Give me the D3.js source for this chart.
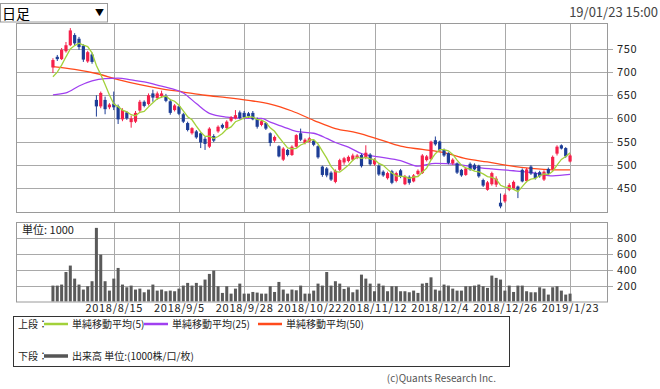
<!DOCTYPE html>
<html><head><meta charset="utf-8">
<script src="https://cdn.jsdelivr.net/npm/d3@7"></script>
<style>
body{margin:0;background:#fff;}
svg{display:block;font-family:"Noto Sans CJK JP","Noto Sans",sans-serif;}
</style></head><body>
<svg id="c" width="660" height="389"></svg>
<script>
// ---- data ----
const opens = [710,733,728,745,758,780,772,757,723,738, 640,626,640,624,632,626,598,613,592,593,
 617,636,631,654,644,648,648,637,618,626, 609,590,568,572,568,556,539,562,572,586,
 579,595,600,613,612,611,612,599,586,590, 568,552,540,511,532,521,539,568,547,550,
 552,540,496,492,483,463,489,505,508,511, 515,521,515,522,501,498,485,471,486,465,
 488,458,474,464,480,482,510,512,553,550, 532,525,503,503,489,478,502,500,498,467,
 446,458,457,418,421,446,449,453,489,465, 496,482,484,468,491,490,524,542,536,507];
const highs = [730,737,752,765,795,784,776,760,746,742, 650,658,647,633,658,630,622,616,606,616,
 640,639,654,662,658,660,653,641,631,628, 612,593,581,575,570,560,581,566,585,589,
 596,605,618,617,616,614,616,602,597,592, 570,563,542,538,534,542,566,578,557,560,
 555,542,498,495,486,490,513,517,520,524, 523,524,542,525,514,501,488,485,489,485,
 491,478,477,480,490,523,521,552,561,552, 535,527,514,505,491,494,505,503,500,470,
 465,485,475,438,438,460,466,455,492,493, 499,485,487,488,494,520,542,544,538,523];
const lows = [698,724,726,742,756,758,748,722,720,718, 604,622,609,620,618,588,594,597,580,590,
 614,624,628,636,640,644,635,608,615,607, 590,572,565,556,536,532,536,549,569,577,
 576,592,598,598,598,601,596,578,583,575, 540,548,516,508,518,519,537,551,544,548,
 540,513,474,473,465,460,486,500,505,508, 512,494,512,498,498,476,474,468,458,462,
 471,456,457,462,477,480,507,510,541,530, 517,501,500,480,474,476,487,488,472,452,
 444,455,452,406,418,443,446,428,462,462, 478,468,472,465,479,488,520,533,515,505];
const closes = [726,728,748,758,790,762,754,727,743,722, 626,655,620,630,624,598,618,600,600,612,
 636,627,650,645,654,654,638,612,628,610, 593,575,579,559,548,545,578,552,582,580,
 593,602,607,601,603,605,598,582,594,578, 547,560,518,535,521,539,564,554,554,557,
 543,516,478,477,468,487,510,514,517,520, 520,497,526,501,511,479,477,482,461,482,
 474,474,461,477,487,520,518,550,544,532, 520,504,511,483,477,492,490,490,475,455,
 462,482,470,410,435,456,463,446,464,490, 481,471,475,485,481,517,539,535,518,520];
// closes of the 4 sessions before the window (needed for the first 5-day averages)
const prevCloses = [678,673,668,705];
const volumes = [200,200,213,371,452,288,213,150,192,255, 926,590,255,137,288,422,213,179,200,150,
 162,116,150,213,137,150,129,137,129,162, 200,234,200,234,200,276,347,389,192,108,
 192,99,162,225,99,99,120,112,99,99, 192,120,246,150,99,150,141,200,99,99,
 137,225,200,371,200,255,225,158,179,116, 150,338,288,225,129,225,200,129,192,192,
 129,129,116,137,108,225,234,304,150,137, 213,200,162,137,137,192,192,200,213,192,
 171,326,297,276,137,200,120,200,200,129, 116,116,179,162,87,179,192,137,87,99];
// 25 / 50 day averages (session index, value)
const ma25Idx = [0,3,6,9,12,15,18,21,24,27,30,33,36,40,45,48,50,53,56,60,63,65,68,71,75,80,84,88,93,97,101,106,111,115,119];
const ma25Val = [651,655,670,681,686,687,683,679,672,665,655,632,611,603,600,600,592,582,572,568,557,548,538,524,517,509,497,503,501,495,491,487,482,476,479];
const ma50Idx = [0,5,10,15,20,25,30,35,40,45,50,55,60,65,70,75,80,85,90,95,100,105,110,115,119];
const ma50Val = [712,706,697,684,673,664,657,650,645,639,631,616,596,578,569,555,540,533,526,513,506,498,492,489,489];
const priceTicks = [450,500,550,600,650,700,750];
const volTicks = [200,400,600,800];
const tickIdx = [14,29,44,59,74,89,104,119];
const tickLabels = ["2018/8/15","2018/9/5","2018/9/28","2018/10/22","2018/11/12","2018/12/4","2018/12/26","2019/1/23"];
const legendTop = [
  {label:"単純移動平均(5)", color:"#a2d13a"},
  {label:"単純移動平均(25)", color:"#a040f0"},
  {label:"単純移動平均(50)", color:"#ff4a1c"}
];

// ---- drawing ----
const svg = d3.select("#c");
const L = 16, R = 607, T = 23, B = 212, VT = 222, VB = 301.5;
const x = d3.scaleLinear().domain([-8.5, 127.5]).range([L, R]);
const y = d3.scaleLinear().domain([398, 806]).range([B, T]);
const yv = d3.scaleLinear().domain([0, 1000]).range([VB, VT]);
const gridC = "#a9a9a9";
const upC = "#f5204a", dnC = "#1d3d96";
const FF = '"Noto Sans CJK JP",sans-serif';

// header
svg.append("rect").attr("x",0.5).attr("y",3.5).attr("width",107).attr("height",18.5)
  .attr("fill","#fff").attr("stroke","#9a9a9a");
svg.append("text").attr("x",2).attr("y",19).attr("font-size",14).attr("fill","#000").text("日足");
svg.append("text").attr("x",95).attr("y",16).attr("font-size",9).attr("fill","#000").text("▼");
svg.append("text").attr("x",658).attr("y",17).attr("text-anchor","end").attr("font-size",13)
  .attr("fill","#444").text("19/01/23 15:00");

// main panel grid
const g = svg.append("g");
g.append("g").selectAll("line").data(priceTicks).join("line")
  .attr("x1",L).attr("x2",R+6).attr("y1",d=>Math.round(y(d))+0.5).attr("y2",d=>Math.round(y(d))+0.5)
  .attr("stroke",gridC);
g.append("g").selectAll("line").data(tickIdx).join("line")
  .attr("x1",d=>Math.round(x(d))+0.5).attr("x2",d=>Math.round(x(d))+0.5).attr("y1",T).attr("y2",B)
  .attr("stroke",gridC);
g.append("rect").attr("x",L+0.5).attr("y",T+0.5).attr("width",R-L).attr("height",B-T)
  .attr("fill","none").attr("stroke","#9a9a9a");
const ay = d3.axisRight(y).tickValues(priceTicks).tickSize(0).tickPadding(10);
g.append("g").attr("transform",`translate(${R},0)`).call(ay)
  .call(a=>a.select(".domain").remove())
  .call(a=>a.selectAll("text").attr("font-size",11).attr("fill","#222")
        .attr("letter-spacing",0.6).attr("font-family",FF));

// moving averages
const ma5 = closes.map((c,i)=>{
  const all = prevCloses.concat(closes);
  return d3.mean(all.slice(i, i+5));
});
const line = d3.line().x(d=>x(d[0])).y(d=>y(d[1])).curve(d3.curveMonotoneX);
g.append("path").datum(ma50Idx.map((d,i)=>[d,ma50Val[i]])).attr("d",line)
  .attr("fill","none").attr("stroke","#ff4a1c").attr("stroke-width",1.3);
g.append("path").datum(ma25Idx.map((d,i)=>[d,ma25Val[i]])).attr("d",line)
  .attr("fill","none").attr("stroke","#a040f0").attr("stroke-width",1.3);

// candles
const cg = g.append("g");
closes.forEach((c,i)=>{
  const o = opens[i], up = c >= o, col = up ? upC : dnC;
  const cx = x(i);
  cg.append("line").attr("x1",cx).attr("x2",cx).attr("y1",y(highs[i])).attr("y2",y(lows[i]))
    .attr("stroke",col).attr("stroke-width",1);
  const top = y(Math.max(o,c)), bot = y(Math.min(o,c));
  cg.append("rect").attr("x",cx-1.6).attr("width",3.2).attr("y",top)
    .attr("height",Math.max(1,bot-top)).attr("fill",col);
});
g.append("path").datum(ma5.map((d,i)=>[i,d])).attr("d",d3.line().x(d=>x(d[0])).y(d=>y(d[1])))
  .attr("fill","none").attr("stroke","#a2d13a").attr("stroke-width",1.3);

// volume panel
const v = svg.append("g");
v.append("g").selectAll("line").data(volTicks).join("line")
  .attr("x1",L).attr("x2",R+6).attr("y1",d=>Math.round(yv(d))+0.5).attr("y2",d=>Math.round(yv(d))+0.5)
  .attr("stroke",gridC);
v.append("g").selectAll("line").data(tickIdx).join("line")
  .attr("x1",d=>Math.round(x(d))+0.5).attr("x2",d=>Math.round(x(d))+0.5).attr("y1",VT).attr("y2",VB)
  .attr("stroke",gridC);
v.append("g").selectAll("rect").data(volumes).join("rect")
  .attr("x",(d,i)=>x(i)-1.5).attr("width",3).attr("y",d=>yv(d)).attr("height",d=>VB-yv(d))
  .attr("fill","#5a5a5a");
v.append("rect").attr("x",L+0.5).attr("y",VT+0.5).attr("width",R-L).attr("height",VB-VT)
  .attr("fill","none").attr("stroke","#9a9a9a");
v.append("text").attr("x",22).attr("y",234).attr("font-size",11).attr("fill","#222").text("単位: 1000");
v.append("g").attr("transform",`translate(${R},0)`)
  .call(d3.axisRight(yv).tickValues(volTicks).tickSize(0).tickPadding(10))
  .call(a=>a.select(".domain").remove())
  .call(a=>a.selectAll("text").attr("font-size",11).attr("fill","#222")
        .attr("letter-spacing",0.6).attr("font-family",FF));
v.append("g").attr("transform",`translate(0,${VB})`)
  .call(d3.axisBottom(x).tickValues(tickIdx).tickFormat((d,i)=>tickLabels[i]).tickSize(0).tickPadding(3))
  .call(a=>a.select(".domain").remove())
  .call(a=>a.selectAll("text").attr("font-size",11).attr("fill","#222")
        .attr("letter-spacing",0.7).attr("font-family",FF));

// legend
const lg = svg.append("g");
lg.append("rect").attr("x",13.5).attr("y",316.5).attr("width",496).attr("height",50)
  .attr("fill","#fff").attr("stroke","#333");
lg.append("text").attr("x",18).attr("y",328).attr("font-size",10).attr("fill","#222").text("上段：");
const slots = [44,144,258];
legendTop.forEach((d,i)=>{
  lg.append("line").attr("x1",slots[i]).attr("x2",slots[i]+24).attr("y1",324).attr("y2",324)
    .attr("stroke",d.color).attr("stroke-width",2.5);
  lg.append("text").attr("x",slots[i]+28).attr("y",328).attr("font-size",10).attr("fill","#222").text(d.label);
});
lg.append("text").attr("x",18).attr("y",360).attr("font-size",10).attr("fill","#222").text("下段：");
lg.append("line").attr("x1",44).attr("x2",68).attr("y1",356).attr("y2",356)
  .attr("stroke","#555").attr("stroke-width",3.5);
lg.append("text").attr("x",72).attr("y",360).attr("font-size",10).attr("fill","#222").text("出来高 単位:(1000株/口/枚)");
svg.append("text").attr("x",496).attr("y",382).attr("text-anchor","end").attr("font-size",10)
  .attr("fill","#555").text("(c)Quants Research Inc.");
</script>
</body></html>
